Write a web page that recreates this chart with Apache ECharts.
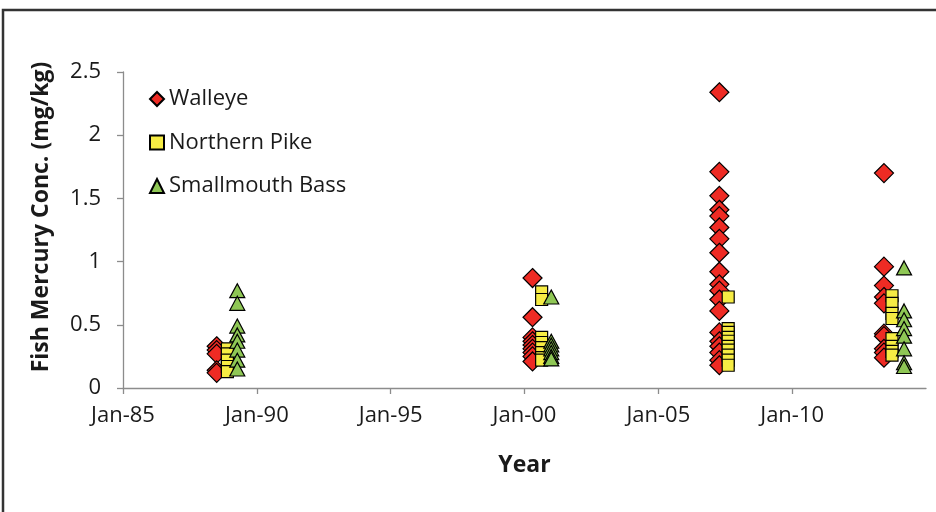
<!DOCTYPE html>
<html>
<head>
<meta charset="utf-8">
<script src="https://cdn.jsdelivr.net/npm/echarts@6/dist/echarts.min.js"></script>
<style>
  html, body { margin: 0; padding: 0; background: #fff; }
  #chart { width: 936px; height: 512px; }
</style>
</head>
<body>
<div id="chart"></div>
<script>
// sampling dates (decimal years) for each survey, per species
var walleyeDates = [1988.5, 2000.3, 2007.28, 2013.43];
var pikeDates = [1988.9, 2000.64, 2007.61, 2013.73];
var bassDates = [1989.27, 2001.0, 2014.18];

// mercury values (mg/kg), one list per survey
var walleyeValues = [
  [0.33, 0.30, 0.27, 0.14, 0.12],
  [0.87, 0.56, 0.40, 0.37, 0.34, 0.31, 0.28, 0.25, 0.21],
  [2.34, 1.71, 1.52, 1.41, 1.36, 1.27, 1.18, 1.07, 0.92, 0.82, 0.77, 0.70, 0.61, 0.44, 0.37, 0.33, 0.28, 0.22, 0.18],
  [1.70, 0.96, 0.81, 0.72, 0.67, 0.43, 0.41, 0.31, 0.28, 0.24]
];
var pikeValues = [
  [0.31, 0.27, 0.22, 0.17, 0.13],
  [0.76, 0.70, 0.40, 0.36, 0.32, 0.28, 0.24, 0.22],
  [0.72, 0.47, 0.44, 0.40, 0.37, 0.33, 0.30, 0.26, 0.22, 0.18],
  [0.73, 0.67, 0.59, 0.55, 0.39, 0.33, 0.29, 0.26]
];
var bassValues = [
  [0.77, 0.67, 0.49, 0.42, 0.37, 0.30, 0.22, 0.15],
  [0.72, 0.37, 0.34, 0.31, 0.28, 0.25, 0.23],
  [0.95, 0.61, 0.54, 0.47, 0.41, 0.31, 0.20, 0.17]
];

var xTicks = [1985, 1990, 1995, 2000, 2005, 2010];

function pairs(dates, values) {
  var out = [];
  for (var i = 0; i < dates.length; i++) {
    for (var j = 0; j < values[i].length; j++) {
      out.push([dates[i], values[i][j]]);
    }
  }
  return out;
}

var font = 'Open Sans';
var chart = echarts.init(document.getElementById('chart'));
chart.setOption({
  animation: false,
  backgroundColor: '#fff',
  textStyle: { fontFamily: font },
  graphic: [{
    type: 'rect',
    shape: { x: 3, y: 10, width: 960, height: 540 },
    style: { fill: 'none', stroke: '#333', lineWidth: 2.5 },
    silent: true
  }],
  grid: { left: 123, right: 10, top: 72, bottom: 124 },
  legend: {
    orient: 'vertical',
    left: 144,
    top: 83,
    itemGap: 21.5,
    itemWidth: 14,
    itemHeight: 14,
    textStyle: { fontFamily: font, fontSize: 22, lineHeight: 20, color: '#1a1a1a' },
    data: ['Walleye', 'Northern Pike', 'Smallmouth Bass']
  },
  xAxis: {
    type: 'value',
    min: 1985,
    max: 2015,
    interval: 5,
    name: 'Year',
    nameLocation: 'middle',
    nameGap: 66,
    nameTextStyle: { fontFamily: font, fontSize: 23, fontWeight: 'bold', color: '#1a1a1a' },
    splitLine: { show: false },
    axisLine: { lineStyle: { color: '#8c8c8c', width: 1.3 } },
    axisTick: { length: 6, lineStyle: { color: '#8c8c8c', width: 1.3 } },
    axisLabel: {
      showMaxLabel: false,
      margin: 17,
      fontFamily: font,
      fontSize: 22,
      color: '#1a1a1a',
      formatter: function (v) {
        if (xTicks.indexOf(v) < 0) return '';
        return 'Jan-' + String(v % 100).padStart(2, '0');
      }
    }
  },
  yAxis: {
    type: 'value',
    min: 0,
    max: 2.5,
    interval: 0.5,
    name: 'Fish Mercury Conc. (mg/kg)',
    nameLocation: 'middle',
    nameGap: 70,
    nameTextStyle: { fontFamily: font, fontSize: 23, fontWeight: 'bold', color: '#1a1a1a', padding: [0, 0, 0, 26] },
    splitLine: { show: false },
    axisLine: { show: true, lineStyle: { color: '#8c8c8c', width: 1.3 } },
    axisTick: { show: true, length: 6, lineStyle: { color: '#8c8c8c', width: 1.3 } },
    axisLabel: { margin: 22, fontFamily: font, fontSize: 22, color: '#1a1a1a' }
  },
  series: [{
    name: 'Walleye',
    type: 'scatter',
    symbol: 'diamond',
    symbolSize: [19, 19],
    itemStyle: { color: '#ee2b24', borderColor: '#000', borderWidth: 1.2, opacity: 1 },
    data: pairs(walleyeDates, walleyeValues)
  }, {
    name: 'Northern Pike',
    type: 'scatter',
    symbol: 'rect',
    symbolSize: [12, 12],
    itemStyle: { color: '#f6ec44', borderColor: '#000', borderWidth: 1.2, opacity: 1 },
    data: pairs(pikeDates, pikeValues)
  }, {
    name: 'Smallmouth Bass',
    type: 'scatter',
    symbol: 'triangle',
    symbolSize: [15, 14],
    itemStyle: { color: '#8fc755', borderColor: '#000', borderWidth: 1.2, opacity: 1 },
    data: pairs(bassDates, bassValues)
  }]
});
</script>
</body>
</html>
